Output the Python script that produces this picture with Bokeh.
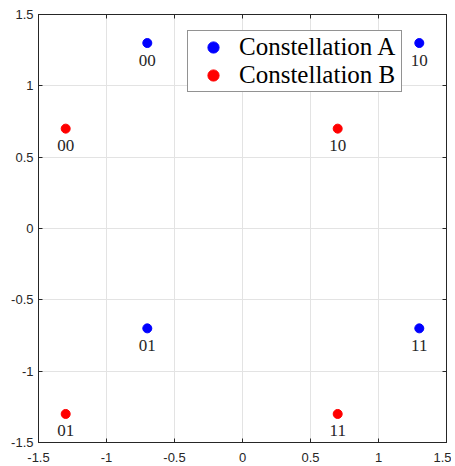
from bokeh.plotting import figure
from bokeh.models import ColumnDataSource, LinearAxis, FixedTicker, Legend, LegendItem, Range1d, CustomJSTickFormatter
from bokeh.core.properties import value
from bokeh.embed import file_html
from bokeh.resources import INLINE

# Data
a_x = [-0.7, 1.3, -0.7, 1.3]
a_y = [1.3, 1.3, -0.7, -0.7]
a_lbl = ["00", "10", "01", "11"]
b_x = [-1.3, 0.7, -1.3, 0.7]
b_y = [0.7, 0.7, -1.3, -1.3]
b_lbl = ["00", "10", "01", "11"]
ticks = [-1.5, -1, -0.5, 0, 0.5, 1, 1.5]
tick_labels = {-1.5: "-1.5", -1: "-1", -0.5: "-0.5", 0: "0", 0.5: "0.5", 1: "1", 1.5: "1.5"}

AX = "#262626"
p = figure(frame_width=408, frame_height=428, output_backend="svg", toolbar_location=None,
           x_range=Range1d(-1.5, 1.5), y_range=Range1d(-1.5, 1.5),
           min_border_left=38, min_border_top=14, min_border_right=5, min_border_bottom=20,
           x_axis_location=None, y_axis_location=None)
p.outline_line_color = AX
p.outline_line_width = 1
p.background_fill_color = "white"

def mk_axis(show_labels, standoff=6):
    ax = LinearAxis(ticker=FixedTicker(ticks=ticks))
    if show_labels:
        ax.major_label_overrides = {k: v for k, v in tick_labels.items()}
        ax.major_label_text_font_size = "13px"
        ax.major_label_standoff = standoff
    else:
        ax.formatter = CustomJSTickFormatter(code="return ''")
        ax.major_label_standoff = 0
    ax.major_tick_in = 4
    ax.major_tick_out = 0
    ax.minor_tick_line_color = None
    ax.major_tick_line_color = AX
    ax.axis_line_color = AX
    ax.major_label_text_color = AX
    ax.major_label_text_font = "Liberation Sans"
    return ax

p.add_layout(mk_axis(True, 10), "below")
p.add_layout(mk_axis(True, 5), "left")
p.add_layout(mk_axis(False), "above")
p.add_layout(mk_axis(False), "right")

p.xgrid.ticker = FixedTicker(ticks=ticks)
p.ygrid.ticker = FixedTicker(ticks=ticks)
for g in (p.xgrid, p.ygrid):
    g.grid_line_color = "#e3e3e3"
    g.grid_line_width = 1

src_a = ColumnDataSource(dict(x=a_x, y=a_y, t=a_lbl))
src_b = ColumnDataSource(dict(x=b_x, y=b_y, t=b_lbl))

ra = p.scatter("x", "y", source=src_a, size=9, color="#0000ff", marker="circle")
rb = p.scatter("x", "y", source=src_b, size=9, color="#ff0000", marker="circle")

for s in (src_a, src_b):
    p.text("x", "y", text="t", source=s, text_align="center", text_baseline="alphabetic",
           y_offset=17, text_font=value("Liberation Serif"), text_font_size="17px",
           text_color=AX)

legend = Legend(items=[LegendItem(label="Constellation A", renderers=[ra]),
                       LegendItem(label="Constellation B", renderers=[rb])],
                location=(149, 350))
legend.label_text_font = "Liberation Serif"
legend.label_text_font_size = "25px"
legend.label_text_color = "black"
legend.padding = 2
legend.glyph_width = 46
legend.glyph_height = 28
legend.label_height = 28
legend.label_standoff = 3
legend.label_width = 160
legend.spacing = 0
legend.margin = 0
legend.border_line_color = AX
legend.border_line_width = 1
legend.background_fill_alpha = 1
p.add_layout(legend, "center")

open("out.html", "w").write(file_html(p, INLINE))
